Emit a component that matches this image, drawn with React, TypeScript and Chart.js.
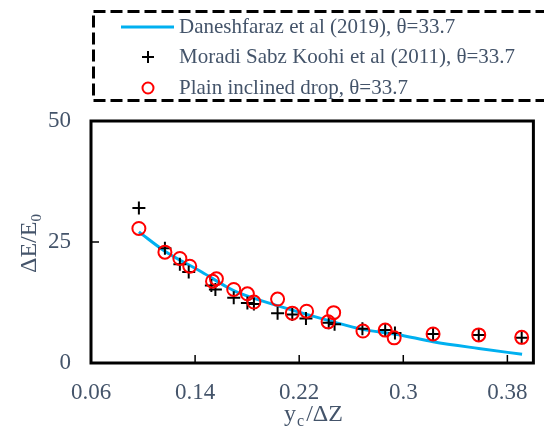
import React, { useEffect, useRef } from "react";
import { Chart, registerables } from "chart.js";

Chart.register(...registerables);

const xTicks = [0.06, 0.14, 0.22, 0.3, 0.38];
const yTicks = [0, 25, 50];

const curveX = [0.0968, 0.1168, 0.1451, 0.1651, 0.1727, 0.2077, 0.2477, 0.2678, 0.2953, 0.3229, 0.358, 0.3913];
const curveY = [27.1, 23.1, 18.8, 15.6, 14.6, 11.5, 8.4, 7.0, 5.9, 4.4, 3.0, 1.8];

const moradiX = [0.0968, 0.1168, 0.1283, 0.1351, 0.1525, 0.1556, 0.1697, 0.1802, 0.1852, 0.2034, 0.2147, 0.2252, 0.2427, 0.2472, 0.2686, 0.2861, 0.2936, 0.3229, 0.358, 0.391];
const moradiY = [32.0, 23.7, 20.4, 18.8, 16.0, 15.2, 13.5, 12.4, 12.2, 10.3, 10.0, 9.2, 8.3, 8.0, 7.1, 6.8, 6.2, 6.0, 5.8, 5.2];

const plainX = [0.0968, 0.1168, 0.1283, 0.1359, 0.1534, 0.1564, 0.1697, 0.1802, 0.1852, 0.2034, 0.2147, 0.2257, 0.2422, 0.2465, 0.269, 0.2861, 0.293, 0.3229, 0.358, 0.391];
const plainY = [27.8, 22.9, 21.6, 20.0, 16.9, 17.4, 15.2, 14.3, 12.6, 13.2, 10.3, 10.7, 8.5, 10.4, 6.6, 6.8, 5.2, 6.0, 5.8, 5.3];

const legendLabels = [
  "Daneshfaraz et al (2019), \u03b8=33.7",
  "Moradi Sabz Koohi et al (2011), \u03b8=33.7",
  "Plain inclined drop, \u03b8=33.7",
];

const FONT = "'Liberation Serif', 'Times New Roman', serif";
const TEXT = "#44546A";
const BLUE = "#00B0F0";
const RED = "#FF0000";

const decorPlugin = {
  id: "decor",
  afterDraw(chart: any) {
    const ctx = chart.ctx as CanvasRenderingContext2D;
    const a = chart.chartArea;
    const xs = chart.scales.x;
    const ys = chart.scales.y;
    ctx.save();
    // inward ticks
    ctx.strokeStyle = "#000";
    ctx.lineWidth = 1.5;
    ctx.beginPath();
    xTicks.forEach((v) => {
      const px = xs.getPixelForValue(v);
      ctx.moveTo(px, a.bottom);
      ctx.lineTo(px, a.bottom - 8);
    });
    yTicks.forEach((v) => {
      const py = ys.getPixelForValue(v);
      ctx.moveTo(a.left, py);
      ctx.lineTo(a.left + 8, py);
    });
    ctx.stroke();
    // frame
    ctx.lineWidth = 3;
    ctx.strokeRect(a.left, a.top, a.right - a.left, a.bottom - a.top);

    // axis titles
    ctx.fillStyle = TEXT;
    ctx.textBaseline = "alphabetic";
    ctx.textAlign = "left";
    ctx.font = `24px ${FONT}`;
    const wy = ctx.measureText("y").width;
    ctx.font = `16px ${FONT}`;
    const wc = ctx.measureText("c").width;
    ctx.font = `24px ${FONT}`;
    const wr = ctx.measureText("/\u0394Z").width;
    const total = wy + 1 + wc + 2 + wr;
    const x0 = 313.5 - total / 2;
    ctx.fillText("y", x0, 421);
    ctx.font = `16px ${FONT}`;
    ctx.fillText("c", x0 + wy + 1, 426);
    ctx.font = `24px ${FONT}`;
    ctx.fillText("/\u0394Z", x0 + wy + 1 + wc + 2, 421);

    ctx.save();
    ctx.translate(36, 273);
    ctx.rotate(-Math.PI / 2);
    ctx.font = `24px ${FONT}`;
    const wm = ctx.measureText("\u0394E/E").width;
    ctx.fillText("\u0394E/E", 0, 0);
    ctx.font = `15px ${FONT}`;
    ctx.fillText("0", wm, 5);
    ctx.restore();

    // legend
    ctx.save();
    ctx.setLineDash([12, 5]);
    ctx.lineWidth = 3;
    ctx.strokeStyle = "#000";
    ctx.strokeRect(93.5, 11.5, 480, 89);
    ctx.restore();

    const rows = [27, 57, 88];
    ctx.lineWidth = 3;
    ctx.strokeStyle = BLUE;
    ctx.beginPath();
    ctx.moveTo(121, rows[0]);
    ctx.lineTo(174, rows[0]);
    ctx.stroke();

    ctx.lineWidth = 2;
    ctx.strokeStyle = "#000";
    ctx.beginPath();
    ctx.moveTo(148 - 6, rows[1]);
    ctx.lineTo(148 + 6, rows[1]);
    ctx.moveTo(148, rows[1] - 6);
    ctx.lineTo(148, rows[1] + 6);
    ctx.stroke();

    ctx.strokeStyle = RED;
    ctx.beginPath();
    ctx.arc(148, rows[2], 5.5, 0, Math.PI * 2);
    ctx.stroke();

    ctx.fillStyle = TEXT;
    ctx.font = `21px ${FONT}`;
    ctx.textBaseline = "middle";
    legendLabels.forEach((t, i) => ctx.fillText(t, 179, rows[i]));
    ctx.restore();
  },
};

export default function App() {
  const ref = useRef<HTMLCanvasElement | null>(null);
  useEffect(() => {
    if (!ref.current) return;
    Chart.defaults.font.family = FONT;
    const chart = new Chart(ref.current, {
      type: "scatter",
      data: {
        datasets: [
          {
            label: legendLabels[2],
            data: plainX.map((x, i) => ({ x, y: plainY[i] })),
            pointStyle: "circle",
            pointRadius: 6.5,
            pointBorderWidth: 2,
            borderColor: RED,
            backgroundColor: "rgba(0,0,0,0)",
            order: 1,
          },
          {
            label: legendLabels[1],
            data: moradiX.map((x, i) => ({ x, y: moradiY[i] })),
            pointStyle: "cross",
            pointRadius: 6.5,
            pointBorderWidth: 2,
            borderColor: "#000",
            backgroundColor: "#000",
            order: 2,
          },
          {
            label: legendLabels[0],
            data: curveX.map((x, i) => ({ x, y: curveY[i] })),
            showLine: true,
            pointRadius: 0,
            borderColor: BLUE,
            borderWidth: 3,
            cubicInterpolationMode: "monotone",
            order: 3,
          } as any,
        ],
      },
      options: {
        animation: false,
        responsive: true,
        maintainAspectRatio: false,
        layout: { padding: { top: 121, right: 3, left: 0, bottom: 0 } },
        plugins: { legend: { display: false }, tooltip: { enabled: false } },
        scales: {
          x: {
            type: "linear",
            min: 0.06,
            max: 0.4,
            afterBuildTicks: (s: any) => {
              s.ticks = xTicks.map((v) => ({ value: v }));
            },
            afterFit: (s: any) => {
              s.height = 68;
            },
            grid: { display: false, drawTicks: false },
            border: { display: false },
            ticks: {
              padding: 16,
              color: TEXT,
              font: { size: 23, family: FONT },
              maxRotation: 0,
              autoSkip: false,
              callback: (v: any) => String(v),
            },
          },
          y: {
            type: "linear",
            min: 0,
            max: 50,
            afterBuildTicks: (s: any) => {
              s.ticks = yTicks.map((v) => ({ value: v }));
            },
            afterFit: (s: any) => {
              s.width = 91;
            },
            grid: { display: false, drawTicks: false },
            border: { display: false },
            ticks: {
              padding: 20,
              color: TEXT,
              font: { size: 23, family: FONT },
              callback: (v: any) => String(v),
            },
          },
        },
      },
      plugins: [decorPlugin],
    });
    return () => chart.destroy();
  }, []);
  return (
    <div style={{ position: "fixed", left: 0, top: 0, width: 544, height: 431 }}>
      <canvas ref={ref} />
    </div>
  );
}
